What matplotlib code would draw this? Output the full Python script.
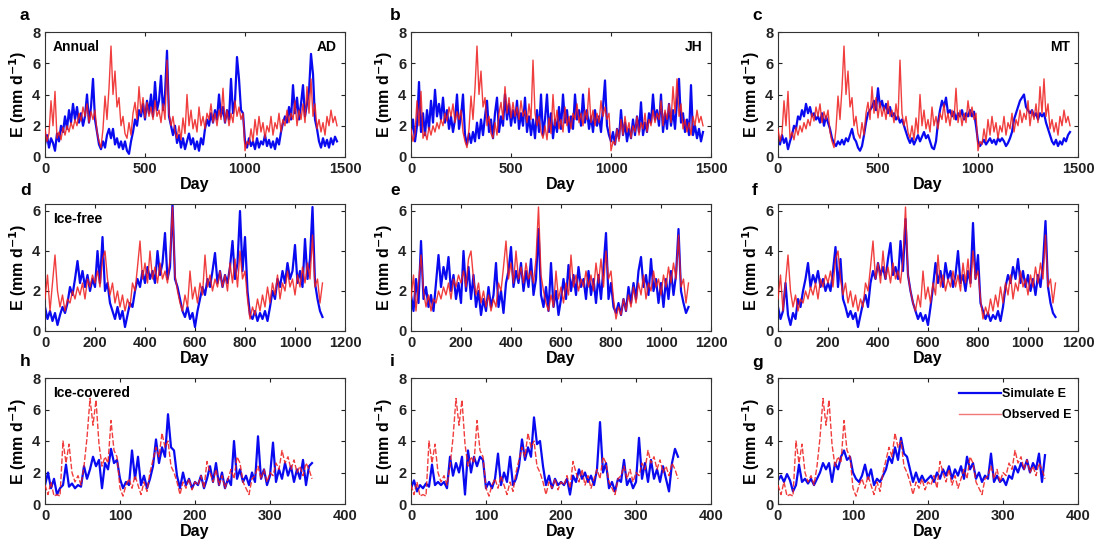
import numpy as np
import matplotlib
matplotlib.use("Agg")
import matplotlib.pyplot as plt

plt.rcParams['font.family'] = ['Liberation Sans', 'DejaVu Sans']
plt.rcParams['font.weight'] = 'bold'
plt.rcParams['axes.labelweight'] = 'bold'

# ---- data (coarse sampling) ----
# annual: one value every 10 days
step_annual = 10
obs_annual = [1.8, 1.0, 1.5, 3.6, 2.0, 4.2, 1.2, 1.6, 1.1, 1.9,
              1.4, 2.0, 1.6, 2.2, 1.8, 2.4, 2.0, 2.8, 2.3, 3.2,
              2.6, 3.4, 2.2, 2.9, 2.4, 3.0, 1.6, 1.0, 0.6, 1.8,
              3.9, 2.4, 4.4, 7.1, 4.0, 5.5, 3.2, 3.8, 2.0, 2.6,
              1.5, 1.2, 2.2, 1.4, 2.8, 3.5, 2.4, 4.5, 2.8, 3.8,
              2.5, 3.5, 2.6, 3.2, 2.4, 3.6, 2.6, 3.0, 2.2, 3.4,
              2.4, 6.2, 2.8, 2.0, 2.6, 1.6, 1.2, 2.0, 1.1, 2.5,
              1.5, 4.0, 2.0, 3.0, 1.8, 2.4, 1.6, 3.2, 2.0, 2.6,
              1.8, 2.8, 2.4, 3.4, 2.2, 2.8, 2.0, 3.0, 2.4, 4.4,
              2.2, 3.0, 2.0, 2.8, 2.2, 3.6, 2.6, 3.2, 2.4, 2.8,
              0.4, 1.0, 0.8, 1.8, 1.0, 2.4, 1.4, 2.6, 1.6, 2.2,
              1.2, 2.0, 1.6, 2.6, 1.4, 2.2, 1.8, 2.8, 1.6, 2.4,
              2.0, 3.0, 2.2, 2.8, 2.4, 3.6, 2.0, 3.0, 2.4, 3.4,
              2.2, 4.5, 2.8, 5.0, 2.6, 3.4, 1.8, 2.4, 1.6, 2.2,
              1.4, 2.6, 2.0, 3.0, 2.2, 2.6, 2.0]
sim_annual_AD = [0.8, 1.4, 0.6, 1.2, 0.9, 0.4, 1.5, 1.0, 2.0, 1.6,
                 2.6, 1.8, 3.0, 2.2, 3.4, 2.4, 3.2, 2.2, 2.8, 2.0,
                 2.6, 4.0, 2.2, 3.2, 5.0, 2.4, 1.6, 0.8, 0.5, 1.0,
                 0.6, 1.4, 1.8, 1.2, 1.8, 0.8, 1.2, 0.6, 1.0, 0.5,
                 1.0, 0.4, 0.2, 1.0, 1.6, 2.4, 2.0, 3.0, 2.6, 3.4,
                 2.4, 3.6, 2.8, 4.0, 2.6, 4.8, 3.0, 3.6, 5.2, 3.0,
                 4.0, 6.8, 2.6, 2.0, 1.4, 2.0, 0.9, 1.4, 0.6, 1.2,
                 0.5, 1.0, 1.5, 0.8, 1.2, 0.5, 1.0, 0.4, 1.2, 0.8,
                 1.8, 2.4, 2.0, 2.8, 2.2, 3.0, 2.4, 4.0, 2.6, 3.2,
                 2.2, 3.0, 2.4, 5.0, 2.8, 3.6, 6.4, 5.0, 3.0, 2.8,
                 1.0, 0.6, 1.2, 0.7, 1.0, 0.5, 1.2, 0.6, 1.0, 0.8,
                 1.4, 0.7, 1.1, 0.6, 1.0, 0.5, 1.2, 0.8, 1.6, 2.2,
                 2.6, 2.2, 3.2, 2.4, 4.6, 2.8, 3.8, 2.4, 3.4, 4.6,
                 2.6, 3.4, 4.2, 6.6, 5.3, 2.4, 1.8, 1.0, 0.6, 1.2,
                 0.7, 1.1, 0.6, 1.2, 0.8, 1.3, 1.0]
sim_annual_JH = [1.6, 2.4, 1.0, 2.0, 4.8, 1.6, 2.8, 1.4, 3.0, 1.8,
                 3.6, 2.2, 4.3, 2.6, 3.4, 2.4, 3.8, 2.2, 3.0, 1.8,
                 2.6, 1.6, 2.4, 4.0, 1.8, 2.6, 4.0, 1.4, 0.8, 1.5,
                 0.9, 1.6, 1.0, 2.2, 1.2, 2.4, 1.4, 2.6, 3.6, 1.6,
                 2.4, 1.2, 2.8, 3.8, 1.6, 2.6, 2.0, 4.0, 2.4, 3.4,
                 2.0, 3.0, 2.2, 3.6, 1.8, 2.8, 2.0, 3.8, 1.6, 2.6,
                 1.4, 2.4, 1.2, 3.0, 1.6, 4.0, 1.4, 2.4, 4.0, 1.6,
                 2.8, 1.2, 2.4, 1.6, 3.2, 1.8, 4.0, 2.2, 3.0, 1.6,
                 2.6, 1.8, 4.0, 2.4, 3.0, 2.0, 4.0, 2.2, 3.0, 1.8,
                 2.6, 1.6, 3.0, 2.0, 2.6, 1.6, 3.2, 4.9, 2.0, 1.4,
                 1.0, 1.6, 0.8, 1.8, 1.2, 3.0, 1.4, 2.2, 1.0, 1.8,
                 1.2, 2.4, 1.4, 2.6, 1.6, 3.5, 1.4, 2.2, 1.6, 2.8,
                 2.2, 4.0, 2.4, 3.0, 2.0, 4.0, 1.6, 2.8, 1.8, 3.4,
                 2.0, 3.0, 1.8, 3.6, 5.0, 2.2, 2.8, 1.6, 2.4, 1.4,
                 4.6, 1.4, 2.0, 1.2, 1.8, 1.0, 1.6]
sim_annual_MT = [1.2, 0.8, 1.4, 0.9, 1.2, 0.5, 1.0, 1.4, 2.0, 1.8,
                 2.6, 2.4, 3.0, 2.6, 3.4, 2.8, 3.2, 2.6, 2.8, 2.4,
                 2.6, 2.2, 2.8, 2.0, 2.6, 2.2, 1.8, 1.2, 0.9, 0.7,
                 1.0, 0.8, 1.1, 0.8, 1.2, 1.0, 1.4, 1.8, 1.2, 1.0,
                 0.6, 0.4, 0.7, 1.4, 2.2, 2.8, 3.0, 3.2, 3.6, 3.0,
                 4.4, 3.2, 3.6, 3.0, 3.4, 2.8, 3.2, 2.6, 2.8, 2.4,
                 2.6, 2.2, 2.4, 2.0, 1.6, 1.2, 0.9, 1.2, 0.8, 1.1,
                 1.4, 1.0, 1.3, 1.6, 1.2, 1.4, 1.0, 0.6, 0.5, 1.0,
                 2.2, 3.0, 3.6, 3.2, 3.8, 2.8, 3.0, 2.6, 2.9, 2.4,
                 2.8, 2.6, 3.0, 2.4, 2.8, 2.6, 3.0, 2.6, 2.9, 2.0,
                 1.0, 0.7, 0.9, 1.1, 0.8, 1.0, 1.2, 0.9, 1.1, 0.8,
                 1.2, 1.0, 1.2, 1.0, 0.7, 0.9, 1.2, 1.6, 2.4, 2.8,
                 3.2, 3.6, 3.8, 4.0, 3.2, 3.0, 2.8, 3.0, 2.6, 2.8,
                 2.4, 2.8, 2.6, 2.8, 2.2, 1.8, 1.4, 1.0, 0.8, 1.1,
                 0.7, 1.0, 0.8, 1.2, 1.0, 1.4, 1.6]

# ice-free: one value every 10 days
step_free = 10
obs_free = [1.6, 2.8, 1.0, 2.4, 3.8, 2.0, 1.2, 1.8, 1.0, 1.6,
            1.4, 2.0, 1.6, 2.2, 1.8, 2.4, 1.6, 2.6, 2.2, 2.8,
            2.4, 3.0, 2.2, 3.6, 4.0, 2.6, 1.8, 2.4, 1.4, 2.0,
            1.2, 1.8, 1.0, 1.6, 1.2, 2.4, 2.0, 3.2, 4.5, 2.6,
            3.4, 2.4, 4.0, 2.6, 3.2, 2.4, 3.4, 2.6, 3.0, 2.4,
            3.6, 6.2, 2.8, 2.0, 1.4, 1.0, 1.8, 1.2, 3.0, 1.6,
            2.2, 1.4, 2.4, 1.8, 3.8, 2.2, 2.8, 2.0, 2.6, 2.2,
            3.0, 2.2, 2.8, 2.0, 3.4, 2.4, 3.6, 2.2, 4.0, 2.6,
            3.0, 1.6, 0.6, 1.2, 0.8, 1.6, 1.0, 1.8, 1.2, 2.2,
            1.4, 2.4, 1.8, 2.8, 1.6, 2.4, 2.0, 3.0, 2.2, 2.6,
            1.8, 2.8, 2.2, 3.2, 2.4, 3.4, 2.6, 4.8, 2.2, 2.6,
            1.4, 2.4]
sim_free_AD = [1.2, 0.6, 1.0, 0.5, 0.9, 0.3, 0.8, 1.2, 0.9, 1.4,
               2.2, 1.8, 2.6, 3.5, 2.4, 3.0, 2.2, 2.8, 2.0, 2.6,
               2.2, 4.0, 2.4, 4.7, 2.0, 2.4, 1.4, 1.0, 0.6, 1.2,
               0.6, 1.0, 0.2, 0.8, 1.4, 1.2, 2.0, 2.6, 2.2, 3.0,
               2.4, 3.2, 2.6, 3.0, 2.4, 4.0, 2.8, 3.4, 4.9, 2.6,
               3.2, 6.4, 2.6, 2.2, 1.6, 1.0, 0.7, 1.2, 0.6, 0.9,
               0.2, 1.0, 1.6, 2.2, 1.8, 2.6, 2.2, 3.0, 3.9, 2.4,
               3.0, 2.2, 2.8, 2.4, 3.2, 4.5, 2.6, 3.4, 6.0, 3.0,
               4.7, 2.0, 0.8, 0.6, 1.0, 0.5, 0.9, 0.6, 1.0, 0.5,
               1.2, 2.0, 1.6, 2.6, 2.2, 3.0, 2.4, 3.4, 2.6, 3.0,
               4.3, 2.4, 3.0, 2.2, 4.6, 2.6, 3.6, 6.2, 2.4, 1.6,
               1.0, 0.7]
sim_free_JH = [1.8, 1.0, 2.6, 1.4, 4.5, 1.6, 2.2, 1.2, 1.8, 1.0,
               2.4, 3.8, 2.2, 3.2, 2.6, 3.7, 2.0, 2.8, 1.6, 2.4,
               1.4, 4.0, 2.0, 3.2, 1.6, 2.8, 1.2, 2.0, 0.8, 1.6,
               1.0, 2.2, 1.2, 1.8, 3.4, 1.2, 2.0, 0.9, 2.4, 3.0,
               4.2, 2.2, 3.0, 2.4, 3.4, 2.0, 3.0, 2.2, 3.6, 1.8,
               2.6, 5.1, 1.8, 1.2, 2.2, 1.0, 3.4, 1.2, 2.0, 0.8,
               1.6, 2.6, 1.6, 3.3, 2.0, 2.8, 1.8, 3.2, 2.2, 2.6,
               1.6, 3.0, 1.8, 2.6, 1.4, 2.8, 1.6, 3.2, 4.9, 1.6,
               2.4, 1.2, 0.9, 1.4, 0.8, 1.6, 1.0, 2.2, 1.4, 2.4,
               1.6, 3.0, 3.7, 2.2, 2.8, 1.8, 3.6, 2.0, 2.6, 1.4,
               2.4, 1.2, 2.6, 1.6, 3.0, 1.8, 2.8, 5.1, 2.0, 1.4,
               0.9, 1.2]
sim_free_MT = [1.2, 0.6, 1.0, 2.4, 0.8, 0.3, 0.9, 0.6, 1.6, 1.2,
               2.0, 2.6, 3.4, 2.2, 2.8, 2.4, 3.0, 2.2, 2.6, 2.0,
               2.4, 2.0, 3.0, 4.2, 2.2, 3.6, 1.6, 1.2, 0.7, 1.0,
               0.6, 0.9, 0.2, 0.8, 1.4, 1.8, 1.2, 2.4, 3.0, 2.6,
               3.4, 2.8, 3.2, 2.6, 3.6, 4.4, 2.8, 3.2, 2.6, 4.5,
               3.0, 5.6, 2.8, 2.0, 1.4, 1.0, 0.6, 0.9, 0.5, 0.8,
               0.3, 1.2, 2.2, 3.4, 2.4, 3.0, 2.2, 3.4, 2.6, 3.0,
               2.2, 2.8, 4.0, 2.4, 2.8, 2.0, 3.0, 2.4, 5.4, 2.6,
               3.8, 1.4, 1.0, 0.6, 0.9, 0.5, 0.8, 0.6, 1.0, 0.5,
               1.2, 2.2, 2.8, 2.4, 3.2, 2.6, 3.6, 2.4, 3.0, 2.2,
               2.8, 2.0, 2.6, 1.8, 2.8, 2.2, 3.4, 5.5, 2.2, 1.4,
               0.9, 0.7]

# ice-covered: one value every 4 days
step_ice = 4
obs_ice = [1.2, 0.6, 1.4, 0.5, 0.6, 0.5, 4.0, 2.6, 3.8, 2.0,
           1.4, 1.8, 1.2, 2.4, 4.2, 6.7, 5.0, 6.6, 3.8, 2.4,
           3.0, 2.6, 5.3, 3.4, 3.0, 1.0, 0.5, 1.2, 1.6, 1.0,
           1.8, 1.2, 0.6, 1.4, 0.8, 2.0, 2.8, 3.6, 3.0, 4.5,
           3.6, 4.0, 2.4, 2.0, 1.4, 0.6, 1.4, 1.0, 1.6, 0.9,
           1.4, 1.2, 1.8, 1.0, 2.7, 2.0, 1.4, 2.2, 1.2, 1.8,
           1.0, 1.6, 2.2, 1.6, 3.0, 2.6, 1.4, 1.0, 0.6, 1.6,
           1.8, 2.4, 1.6, 2.2, 1.4, 2.0, 1.8, 2.6, 2.2, 3.4,
           2.6, 3.0, 2.2, 2.8, 2.0, 2.4, 1.8, 2.6, 2.2, 1.6]
sim_ice_AD = [1.2, 2.0, 1.0, 1.6, 0.6, 1.0, 1.2, 2.5, 1.1, 1.3,
              1.0, 1.2, 1.1, 2.4, 1.6, 2.2, 3.0, 2.4, 2.8, 1.0,
              2.6, 2.2, 3.5, 2.6, 2.8, 1.6, 1.0, 1.4, 1.2, 3.4,
              1.6, 3.0, 1.2, 1.8, 1.0, 1.6, 2.4, 4.1, 2.6, 3.6,
              3.0, 5.7, 3.6, 3.4, 1.8, 1.0, 2.0, 1.2, 1.6, 1.0,
              1.4, 1.2, 1.8, 1.0, 1.6, 2.4, 1.4, 2.6, 1.2, 2.0,
              1.0, 1.6, 1.2, 4.0, 1.6, 2.2, 1.4, 1.8, 1.2, 2.0,
              1.4, 4.3, 1.6, 2.2, 1.2, 1.8, 3.9, 1.4, 2.2, 1.6,
              2.6, 1.8, 2.4, 1.4, 2.2, 1.6, 2.8, 1.2, 2.4, 2.6]
sim_ice_JH = [1.0, 1.5, 0.8, 1.2, 1.0, 1.3, 1.1, 2.5, 1.2, 1.4,
              1.2, 1.4, 1.0, 3.0, 1.8, 2.6, 2.0, 3.0, 0.6, 3.4,
              2.0, 3.0, 2.4, 3.0, 2.8, 1.0, 1.4, 1.0, 1.6, 3.2,
              1.2, 2.0, 1.4, 3.0, 1.2, 1.6, 2.4, 4.1, 2.8, 3.6,
              3.0, 5.5, 3.8, 4.0, 2.4, 1.2, 1.8, 1.0, 1.6, 1.2,
              1.4, 1.2, 1.6, 0.6, 1.8, 1.4, 2.2, 1.6, 2.0, 1.4,
              1.8, 1.2, 2.2, 5.2, 2.0, 2.6, 1.0, 1.4, 0.8, 1.6,
              1.4, 2.8, 1.2, 1.6, 1.0, 1.4, 4.2, 1.6, 2.6, 1.4,
              2.8, 1.6, 2.2, 1.4, 2.4, 1.6, 0.8, 2.6, 3.5, 3.0]
sim_ice_MT = [1.5, 1.8, 1.4, 1.9, 1.5, 0.8, 1.2, 2.5, 1.4, 1.6,
              1.3, 1.6, 1.2, 1.6, 2.0, 2.6, 2.2, 2.6, 1.4, 2.6,
              2.2, 3.0, 3.4, 2.8, 3.0, 2.0, 1.6, 1.4, 1.8, 2.5,
              1.6, 2.2, 1.2, 1.6, 1.4, 1.8, 2.2, 3.0, 2.6, 3.6,
              2.8, 4.2, 3.2, 3.0, 2.2, 1.4, 2.0, 1.4, 1.8, 1.4,
              1.6, 1.8, 1.4, 2.0, 1.6, 2.2, 1.8, 2.4, 1.6, 2.2,
              1.8, 2.4, 1.6, 3.0, 2.2, 2.6, 1.6, 2.0, 1.4, 1.8,
              1.6, 3.2, 1.4, 1.8, 1.4, 1.6, 1.2, 1.8, 1.6, 2.4,
              2.0, 2.6, 2.2, 2.8, 2.0, 2.6, 2.2, 3.2, 1.4, 3.1]

letters = [['a', 'b', 'c'], ['d', 'e', 'f'], ['h', 'i', 'g']]
model_names = ['AD', 'JH', 'MT']
row_names = ['Annual', 'Ice-free', 'Ice-covered']

rows = [
    (step_annual, obs_annual, [sim_annual_AD, sim_annual_JH, sim_annual_MT]),
    (step_free, obs_free, [sim_free_AD, sim_free_JH, sim_free_MT]),
    (step_ice, obs_ice, [sim_ice_AD, sim_ice_JH, sim_ice_MT]),
]
xlims = [(0, 1500), (0, 1200), (0, 400)]
xticks = [[0, 500, 1000, 1500], list(range(0, 1201, 200)), [0, 100, 200, 300, 400]]
ylims = [(0, 8), (0, 6.35), (0, 8)]
yticks = [[0, 2, 4, 6, 8], [0, 2, 4, 6], [0, 2, 4, 6, 8]]

# ---- layout in pixels ----
W, H = 1094, 547
col_left = [45, 411, 778]
ax_w = 300
row_box = [(32, 157), (204, 331), (378, 504)]   # top, bottom
letter_x = [20, 390, 752]
letter_y = [15, 190, 362]

blue = '#0a0af0'
red = '#ee1c1c'

fig = plt.figure(figsize=(W / 100, H / 100), dpi=100)

for r in range(3):
    step, obs, sims = rows[r]
    top, bot = row_box[r]
    for c in range(3):
        ax = fig.add_axes([col_left[c] / W, (H - bot) / H, ax_w / W, (bot - top) / H])
        sim = sims[c]
        d_sim = np.arange(len(sim)) * step
        d_obs = np.arange(len(obs)) * step
        ls = (0, (4, 1.5)) if r == 2 else '-'
        l1, = ax.plot(d_sim, sim, color=blue, lw=1.6, label='Simulate E', zorder=2)
        l2, = ax.plot(d_obs, obs, color=red, lw=1.0, ls=ls, alpha=0.85,
                      label='Observed E', zorder=3)
        ax.set_xlim(xlims[r])
        ax.set_ylim(ylims[r])
        ax.set_xticks(xticks[r])
        ax.set_yticks(yticks[r])
        ax.tick_params(direction='in', top=True, right=True, length=3,
                       labelsize=10.5, colors='#222222', width=0.8)
        for lab in ax.get_xticklabels() + ax.get_yticklabels():
            lab.set_fontweight('bold')
        for s in ax.spines.values():
            s.set_color('#333333')
            s.set_linewidth(0.8)
        ax.set_xlabel('Day', fontsize=11.5, fontweight='bold', labelpad=1)
        ax.set_ylabel('E (mm d$^{\\mathbf{-1}}$)', fontsize=11.5, fontweight='bold', labelpad=2)

        if c == 0:
            ax.text(0.027, 0.88, row_names[r], transform=ax.transAxes,
                    fontsize=10, fontweight='bold', va='center', ha='left')
        if r == 0:
            ax.text(0.973, 0.88, model_names[c], transform=ax.transAxes,
                    fontsize=10, fontweight='bold', va='center', ha='right')
        if r == 2 and c == 2:
            leg_red, = ax.plot([], [], color=red, lw=1.0, alpha=0.6)
            ax.legend(handles=[l1, leg_red], labels=['Simulate E', 'Observed E'],
                      loc='upper left', bbox_to_anchor=(0.575, 0.99),
                      frameon=False, handlelength=3.3,
                      handletextpad=0.15, labelspacing=0.75, borderpad=0.2,
                      prop={'weight': 'bold', 'size': 9})

        fig.text(letter_x[c] / W, 1 - letter_y[r] / H, letters[r][c],
                 fontsize=12.5, fontweight='bold', ha='left', va='center')

fig.savefig('out.png', dpi=100)
